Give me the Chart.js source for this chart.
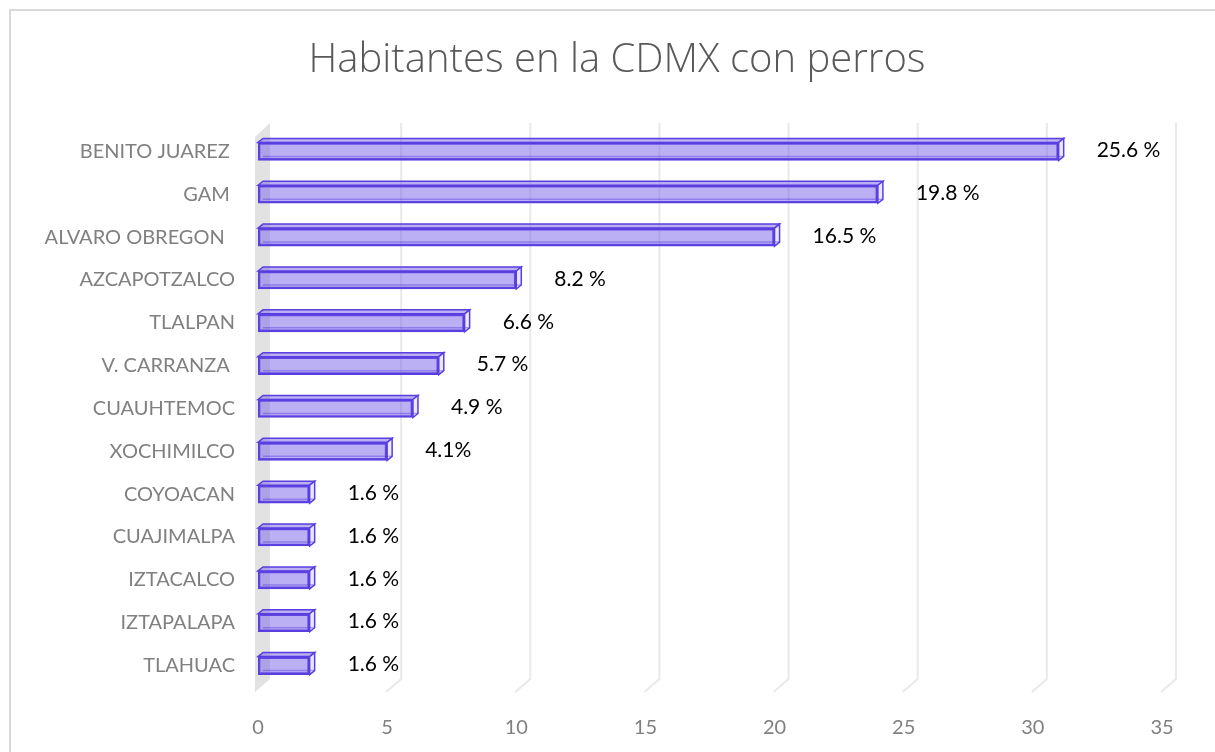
<!DOCTYPE html>
<html>
<head>
<meta charset="utf-8">
<script src="https://cdn.jsdelivr.net/npm/chart.js@4/dist/chart.umd.min.js"></script>
<style>
  html, body { margin: 0; padding: 0; background: #ffffff; overflow: hidden; }
  #wrap { width: 1215px; height: 752px; position: relative; }
</style>
</head>
<body>
<div id="wrap"><canvas id="perros-canvas" width="1215" height="752"></canvas></div>
<script>
  // Data
  let categories = ['BENITO JUAREZ ', 'GAM ', 'ALVARO OBREGON  ', 'AZCAPOTZALCO', 'TLALPAN', 'V. CARRANZA ',
    'CUAUHTEMOC', 'XOCHIMILCO', 'COYOACAN', 'CUAJIMALPA', 'IZTACALCO', 'IZTAPALAPA', 'TLAHUAC'];
  let bar_values = [31, 24, 20, 10, 8, 7, 6, 5, 2, 2, 2, 2, 2];
  let bar_labels = ['25.6 %', '19.8 %', '16.5 %', '8.2 %', '6.6 %', '5.7 %', '4.9 %', '4.1%',
    '1.6 %', '1.6 %', '1.6 %', '1.6 %', '1.6 %'];
  let x_min = 0;
  let x_max = 35;
  let x_step = 5;

  let font_family = 'Lato, "Open Sans", sans-serif';
  let bar_fill = 'rgba(122, 98, 236, 0.5)';
  let bar_border = '#5a3ee0';
  let side_fill = '#ebe7fc';

  // Chart frame (left and top edge visible)
  let frame_plugin = {
    id: 'frame',
    beforeDraw: function(chart) {
      let ctx = chart.ctx;
      ctx.save();
      ctx.strokeStyle = '#d9d9d9';
      ctx.lineWidth = 2;
      ctx.beginPath();
      ctx.moveTo(10, 760);
      ctx.lineTo(10, 10);
      ctx.lineTo(1225, 10);
      ctx.stroke();
      ctx.restore();
    }
  };

  // Back wall + gridlines with floor diagonal
  let wall_plugin = {
    id: 'wall3d',
    beforeDatasetsDraw: function(chart) {
      let ctx = chart.ctx;
      let area = chart.chartArea;
      let xs = chart.scales.x;
      let L = xs.getPixelForValue(0);
      ctx.save();
      ctx.fillStyle = '#e2e2e2';
      ctx.beginPath();
      ctx.moveTo(L - 3, area.top + 7);
      ctx.lineTo(L + 12, area.top - 7);
      ctx.lineTo(L + 12, area.bottom - 8);
      ctx.lineTo(L - 3, area.bottom + 5);
      ctx.closePath();
      ctx.fill();

      ctx.strokeStyle = '#e9e9e9';
      ctx.lineWidth = 2;
      for (let v = x_min + x_step; v <= x_max; v += x_step) {
        let px = xs.getPixelForValue(v);
        ctx.beginPath();
        ctx.moveTo(px + 14, area.top - 7);
        ctx.lineTo(px + 14, area.bottom - 8);
        ctx.lineTo(px - 1, area.bottom + 5);
        ctx.stroke();
      }
      ctx.restore();
    }
  };

  // Top and end faces of each bar, then the value labels
  let bar3d_plugin = {
    id: 'bar3d',
    afterDatasetsDraw: function(chart) {
      let ctx = chart.ctx;
      let meta = chart.getDatasetMeta(0);
      let dx = 5;
      let dy = 4;
      ctx.save();
      ctx.lineWidth = 1.5;
      ctx.strokeStyle = bar_border;
      meta.data.forEach(function(bar, i) {
        let p = bar.getProps(['x', 'y', 'base', 'height'], true);
        let top = p.y - p.height / 2;
        let bottom = p.y + p.height / 2;

        // top face
        ctx.fillStyle = bar_fill;
        ctx.beginPath();
        ctx.moveTo(p.base, top);
        ctx.lineTo(p.base + dx, top - dy);
        ctx.lineTo(p.x + dx, top - dy);
        ctx.lineTo(p.x, top);
        ctx.closePath();
        ctx.fill();
        ctx.stroke();

        // end face
        ctx.fillStyle = side_fill;
        ctx.beginPath();
        ctx.moveTo(p.x, top);
        ctx.lineTo(p.x + dx, top - dy);
        ctx.lineTo(p.x + dx, bottom - dy);
        ctx.lineTo(p.x, bottom);
        ctx.closePath();
        ctx.fill();
        ctx.stroke();

        // back edge seen through the bar
        ctx.strokeStyle = 'rgba(90, 62, 224, 0.45)';
        ctx.beginPath();
        ctx.moveTo(p.base + dx, bottom - dy);
        ctx.lineTo(p.x + dx, bottom - dy);
        ctx.stroke();
        ctx.strokeStyle = bar_border;

        // value label
        ctx.fillStyle = '#000000';
        ctx.font = '21px ' + font_family;
        ctx.textAlign = 'left';
        ctx.textBaseline = 'middle';
        ctx.fillText(bar_labels[i], p.x + 38, p.y - 1);
      });
      ctx.restore();
    }
  };

  let perros_ctx = document.getElementById('perros-canvas').getContext('2d');
  let perros_chart = new Chart(perros_ctx, {
    type: 'bar',
    data: {
      labels: categories,
      datasets: [{
        label: 'Habitantes',
        data: bar_values,
        backgroundColor: bar_fill,
        borderColor: bar_border,
        borderWidth: 2,
        barThickness: 18,
        borderSkipped: false
      }]
    },
    plugins: [frame_plugin, wall_plugin, bar3d_plugin],
    options: {
      indexAxis: 'y',
      responsive: false,
      animation: false,
      layout: {
        padding: { left: 19, right: 0, top: 0, bottom: 17 }
      },
      plugins: {
        legend: { display: false },
        tooltip: { enabled: false },
        title: {
          display: true,
          text: 'Habitantes en la CDMX con perros',
          color: '#595959',
          font: { family: '"Open Sans", Lato, sans-serif', size: 40, weight: '300' },
          padding: { top: 37, bottom: 45 }
        }
      },
      scales: {
        x: {
          min: x_min,
          max: x_max,
          ticks: {
            stepSize: x_step,
            color: '#808080',
            font: { family: font_family, size: 20 },
            padding: 21
          },
          grid: { display: false },
          border: { display: false },
          afterFit: function(scale) {
            scale.height = 48;
          }
        },
        y: {
          ticks: {
            color: '#808080',
            font: { family: font_family, size: 20 },
            padding: 15
          },
          grid: { display: false },
          border: { display: false },
          afterFit: function(scale) {
            scale.width = 239;
          }
        },
        // empty right-hand margin so the title centres like the original
        y_margin: {
          axis: 'y',
          type: 'category',
          position: 'right',
          ticks: { display: false },
          grid: { display: false },
          border: { display: false },
          afterFit: function(scale) {
            scale.width = 53;
          }
        }
      }
    }
  });
</script>
</body>
</html>
